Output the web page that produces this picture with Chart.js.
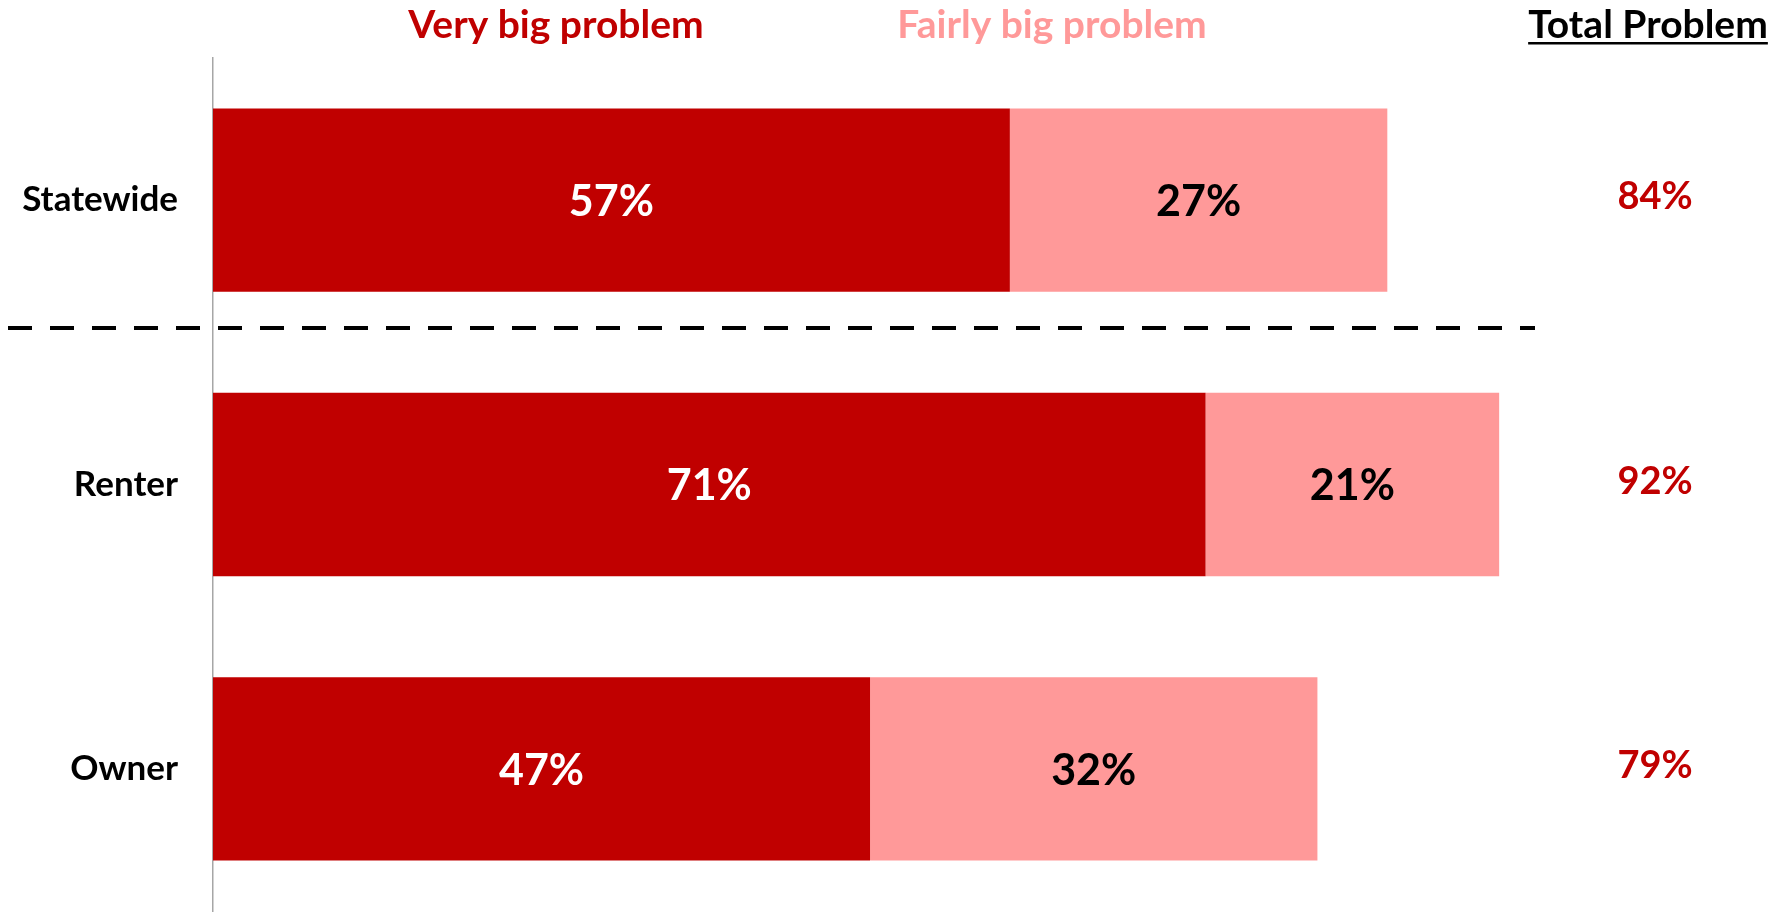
<!DOCTYPE html>
<html>
<head>
<meta charset="utf-8">
<script src="https://cdn.jsdelivr.net/npm/chart.js@4.4.1/dist/chart.umd.min.js"></script>
<style>
  html, body { margin: 0; padding: 0; background: #ffffff; overflow: hidden; }
  #wrap { width: 1788px; height: 913px; position: relative; }
</style>
</head>
<body>
<div id="wrap"><canvas id="c"></canvas></div>
<script>
const categories = ["Statewide", "Renter", "Owner"];
const veryBig = [57, 71, 47];
const fairlyBig = [27, 21, 32];
const seriesNames = ["Very big problem", "Fairly big problem"];
const totalHeader = "Total Problem";

const DARK = "#C00000";
const LIGHT = "#FF9999";
const FONT = "Lato, 'Open Sans', sans-serif";

const labelPlugin = {
  id: "segLabels",
  afterDatasetsDraw(chart) {
    const ctx = chart.ctx;
    ctx.save();
    ctx.font = "bold 43px " + FONT;
    ctx.textAlign = "center";
    ctx.textBaseline = "middle";
    chart.data.datasets.forEach((ds, di) => {
      const meta = chart.getDatasetMeta(di);
      meta.data.forEach((bar, i) => {
        const { x, y, base } = bar.getProps(["x", "y", "base"], true);
        ctx.fillStyle = di === 0 ? "#ffffff" : "#000000";
        ctx.fillText(ds.data[i] + "%", (x + base) / 2, y + 2);
      });
    });
    ctx.restore();
  }
};

const extrasPlugin = {
  id: "extras",
  afterDraw(chart) {
    const ctx = chart.ctx;
    const yScale = chart.scales.y;
    ctx.save();
    // headers
    ctx.font = "bold 39px " + FONT;
    ctx.textBaseline = "alphabetic";
    ctx.textAlign = "center";
    ctx.fillStyle = DARK;
    ctx.fillText(seriesNames[0], 556, 38);
    ctx.fillStyle = LIGHT;
    ctx.fillText(seriesNames[1], 1052, 38);
    ctx.fillStyle = "#000000";
    ctx.fillText(totalHeader, 1648, 38);
    const w = ctx.measureText(totalHeader).width;
    ctx.fillRect(1648 - w / 2, 42, w, 2.5);
    // totals
    ctx.font = "bold 38px " + FONT;
    ctx.textBaseline = "middle";
    ctx.fillStyle = DARK;
    categories.forEach((c, i) => {
      const total = veryBig[i] + fairlyBig[i];
      ctx.fillText(total + "%", 1655, yScale.getPixelForValue(i) - 3);
    });
    // dashed separator
    const yd = Math.round(yScale.getPixelForValue(0.45));
    ctx.strokeStyle = "#000000";
    ctx.lineWidth = 4;
    ctx.setLineDash([24, 18]);
    ctx.beginPath();
    ctx.moveTo(8, yd);
    ctx.lineTo(1535, yd);
    ctx.stroke();
    ctx.restore();
  }
};

new Chart(document.getElementById("c"), {
  type: "bar",
  data: {
    labels: categories,
    datasets: [
      { label: seriesNames[0], data: veryBig, backgroundColor: DARK, borderWidth: 0 },
      { label: seriesNames[1], data: fairlyBig, backgroundColor: LIGHT, borderWidth: 0 }
    ]
  },
  options: {
    indexAxis: "y",
    responsive: true,
    maintainAspectRatio: false,
    animation: false,
    layout: { padding: { top: 58, bottom: 2, left: 0, right: 177 } },
    plugins: { legend: { display: false }, tooltip: { enabled: false } },
    datasets: { bar: { barPercentage: 0.645, categoryPercentage: 1.0 } },
    scales: {
      x: {
        stacked: true, min: 0, max: 100, display: false
      },
      y: {
        stacked: true,
        grid: { display: false, drawTicks: true, tickLength: 35 },
        border: { display: true, color: "#a6a6a6", width: 1.5 },
        ticks: { color: "#000000", font: { family: FONT, size: 35, weight: "bold", lineHeight: 0.1 }, padding: 0 },
        afterFit(s) { s.width = 213; }
      }
    }
  },
  plugins: [labelPlugin, extrasPlugin]
});
</script>
</body>
</html>
